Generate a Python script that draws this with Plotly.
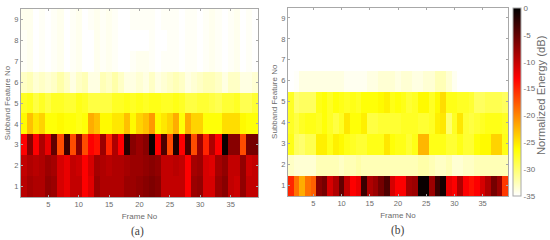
import plotly.graph_objects as go
from plotly.subplots import make_subplots

W, H = 550, 240
frames = list(range(1, 40))
features = list(range(1, 10))

a_row1 = [-9.5,-8.5,-9,-9,-7.5,-8,-11,-12,-10,-10,-13,-11.5,-8,-9,-9,-9,-9,-8,-8,-7.5,-7,-6.5,-7,-10,-10,-10,-10,-13,-8,-7.5,-11,-11,-8,-7,-10,-10.5,-7.5,-10,-10]
a_row2 = [-10,-9,-9.5,-9,-8,-8.5,-11,-12,-10,-10.5,-13,-11,-8.5,-9,-9.5,-9,-9,-8.5,-8,-8,-7.5,-7,-7.5,-10,-10,-9.5,-10,-13,-8.5,-8,-11,-11.5,-8.5,-7.5,-10,-10,-7.5,-10.5,-10]
a_row3 = [-13,-7,-13,-9,-12,-5,-17,-3,-17,-7,-17,-13,-14,-8,-15,-9,-13,-2,-7,-8,-7,-0.5,-13,-4,-17,-1.5,-13,-4,-17,-8,-15,-9,-13,-0.5,-7,-7,-17,-6,-6]
a_row4 = [-26,-23,-25,-24,-26.5,-26.5,-26,-26.5,-26.5,-27,-26.5,-22,-23,-26,-26,-25,-25,-23,-26,-24,-23,-21,-26,-25,-24,-22,-26.5,-22,-24,-24,-26.5,-26.5,-26.5,-24.5,-24.5,-24.5,-26,-26.5,-26.5]
a_row5 = [-27.5,-27,-28.5,-27.5,-28.5,-27.5,-27.5,-28,-28,-27,-27.5,-28.5,-28.5,-28.5,-28.5,-27.5,-27.5,-27,-27.5,-27,-27.5,-27,-27,-27.5,-27.5,-27,-27.5,-28.5,-28.5,-28,-28,-28.5,-29,-28,-28,-27.5,-29,-29,-28]
a_row6 = [-33,-32.5,-33.5,-33,-33.5,-33,-32,-33,-34,-33,-32.5,-34,-34,-32.5,-33,-32,-33,-34,-34,-33.5,-34,-33,-34,-33.5,-33,-32.5,-33,-34,-33.5,-33,-32.5,-32.5,-33,-34,-33,-33,-34,-34,-33.5]
a_row7 = [-34.7,-34.4,-35,-34.7,-35,-34.7,-34.4,-35,-34.7,-34.4,-35,-35,-34.4,-34.7,-34.4,-34.7,-35,-35,-34.7,-34.4,-34.4,-34.7,-35,-34.7,-34.7,-34.7,-35,-34.7,-34.7,-35,-34.7,-34.4,-34.7,-35,-34.7,-34.4,-35,-34.7,-35]
a_row8 = [-34.7,-34.4,-35,-34.7,-35,-34.7,-34.4,-35,-34.7,-34.4,-35,-35,-34.4,-34.7,-34.4,-34.7,-35,-35,-35,-35,-35,-34.7,-35,-35,-34.7,-34.7,-35,-34.7,-34.7,-35,-34.7,-34.4,-34.7,-35,-34.7,-34.4,-35,-34.7,-35]
a_row9 = [-34.4,-34.4,-35,-34.7,-35,-34.7,-34.4,-35,-34.7,-34.4,-35,-34.7,-34.4,-34.7,-34.4,-34.7,-35,-35,-34.7,-34.7,-34.7,-34.7,-35,-34.7,-34.7,-34.7,-35,-34.7,-34.7,-35,-34.7,-34.4,-34.7,-35,-34.7,-34.4,-35,-34.7,-35]

b_row1 = [-15,-19,-22,-19,-18,-7,-6,-11,-9,-5,-10,-13,-12,-3,-9,-8,-6,-4,-11,-13,-13,-8.5,-8,-0.5,-0.5,-8,-3,-1,-12,-13,-9,-13,-14,-13,-11,-9,-6,-8,-16]
b_row2 = [-33,-33.5,-33.5,-33.5,-33.5,-32.5,-32.5,-32.5,-32.5,-33,-32.5,-32.5,-32,-32.5,-32.5,-32.5,-32.5,-32.5,-32.5,-32.5,-32.5,-32.5,-32.5,-32,-32,-32.5,-33,-33,-32.5,-33.5,-33.5,-33,-33,-32.5,-32.5,-32.5,-32.5,-32.5,-32.5]
b_row3 = [-27,-29.5,-30,-29,-29,-25.5,-25.5,-27,-25.5,-26,-27,-27.5,-28,-28,-27,-27,-27,-25,-26.5,-27,-27,-28,-27,-22.5,-22.5,-27,-27,-27,-28,-28,-27,-28,-28,-26.5,-26,-26,-24,-24,-27]
b_row4 = [-27.5,-28.5,-27.5,-27,-27,-27.5,-26.5,-27.5,-28.5,-27.5,-25,-26.5,-26.5,-25.5,-28.5,-28.5,-28,-28,-28,-28,-27.5,-27.5,-27.5,-28,-28,-27.5,-25.5,-25,-30,-27.5,-25,-28,-28.5,-28,-27.5,-27,-27,-27,-27.5]
b_row5 = [-27.5,-30,-29.5,-29.5,-29.5,-27,-26.5,-27.5,-26.5,-27,-27.5,-27,-27.5,-26.5,-26.5,-26.5,-26,-25.5,-27,-26.5,-27,-28,-27.5,-26,-26,-27.5,-26,-24.5,-27,-27,-27.5,-27.5,-28,-29.5,-29.5,-29,-29,-29,-29.5]
b_row6 = [-35,-34.8,-34,-34,-34,-34,-34,-34,-34,-34,-34.5,-34.5,-34.5,-34.5,-34,-34,-33.5,-33.5,-33.5,-34,-33.5,-33.5,-34,-34,-33.5,-33.5,-32.5,-32.5,-33.5,-34.5,-35,-35,-35,-35,-35,-35,-35,-35,-35]
b_row7 = [-35] * 39
b_row8 = [-35] * 39
b_row9 = [-35] * 39

z_a = [a_row1, a_row2, a_row3, a_row4, a_row5, a_row6, a_row7, a_row8, a_row9]
z_b = [b_row1, b_row2, b_row3, b_row4, b_row5, b_row6, b_row7, b_row8, b_row9]

x_ticks = [5, 10, 15, 20, 25, 30, 35]
y_ticks = [1, 2, 3, 4, 5, 6, 7, 8, 9]
cbar_ticks = [0, -5, -10, -15, -20, -25, -30, -35]
cbar_labels = ["0", "-5", "-10", "-15", "-20", "-25", "-30", "-35"]

GREY = "#6b6b6b"
FRAME = "#a8a8a8"
hot_reversed = [[0, "#ffffff"], [0.25, "#ffff00"], [0.625, "#ff0000"], [1, "#000000"]]

fig = make_subplots(rows=1, cols=2)
fig.add_trace(go.Heatmap(x=frames, y=features, z=z_a, coloraxis="coloraxis", name="(a)"), row=1, col=1)
fig.add_trace(go.Heatmap(x=frames, y=features, z=z_b, coloraxis="coloraxis", name="(b)"), row=1, col=2)

axis_style = dict(showgrid=False, zeroline=False, showline=True, linecolor=FRAME, linewidth=1,
                  mirror="ticks", ticks="inside", ticklen=2, tickcolor=FRAME,
                  tickfont=dict(size=7.5, color=GREY, family="Liberation Sans"))
x_title = dict(text="Frame No", font=dict(size=8, color=GREY, family="Liberation Sans"), standoff=5)
y_title = dict(text="Subband Feature No", font=dict(size=8, color=GREY, family="Liberation Sans"), standoff=2)

fig.update_xaxes(range=[0.5, 39.5], tickvals=x_ticks, title=x_title, **axis_style)
fig.update_yaxes(range=[0.5, 9.5], tickvals=y_ticks, title=y_title, **axis_style)
fig.update_layout(
    xaxis=dict(domain=[21 / W, 258 / W]),
    yaxis=dict(domain=[1 - 197 / H, 1 - 9 / H]),
    xaxis2=dict(domain=[288 / W, 508 / W]),
    yaxis2=dict(domain=[1 - 196 / H, 1 - 7.5 / H]),
    width=W, height=H, autosize=False,
    margin=dict(l=0, r=0, t=0, b=0),
    paper_bgcolor="white", plot_bgcolor="white",
    coloraxis=dict(
        cmin=-35, cmax=0, colorscale=hot_reversed,
        colorbar=dict(
            x=513 / W, xanchor="left", y=1 - 196 / H, yanchor="bottom",
            len=188 / H, lenmode="fraction", thickness=8, thicknessmode="pixels",
            xpad=0, ypad=0, outlinecolor=FRAME, outlinewidth=1,
            tickvals=cbar_ticks, ticktext=cbar_labels, ticks="",
            tickfont=dict(size=8, color=GREY, family="Liberation Sans"),
        ),
    ),
    annotations=[
        dict(text="Normalized Energy (dB)", x=541 / W, y=1 - 95 / H, xref="paper", yref="paper",
             xanchor="center", yanchor="middle",
             textangle=-90, showarrow=False, font=dict(size=11.2, color=GREY, family="Liberation Sans")),
        dict(text="(a)", x=137 / W, y=1 - 231 / H, xref="paper", yref="paper",
             xanchor="center", yanchor="middle",
             showarrow=False, font=dict(size=11.5, color="#444444", family="Liberation Serif")),
        dict(text="(b)", x=398 / W, y=1 - 230 / H, xref="paper", yref="paper",
             xanchor="center", yanchor="middle",
             showarrow=False, font=dict(size=11.5, color="#444444", family="Liberation Serif")),
    ],
)

fig.write_html("out.html", config={"displayModeBar": False},
               post_script="document.body.style.margin='0';")
